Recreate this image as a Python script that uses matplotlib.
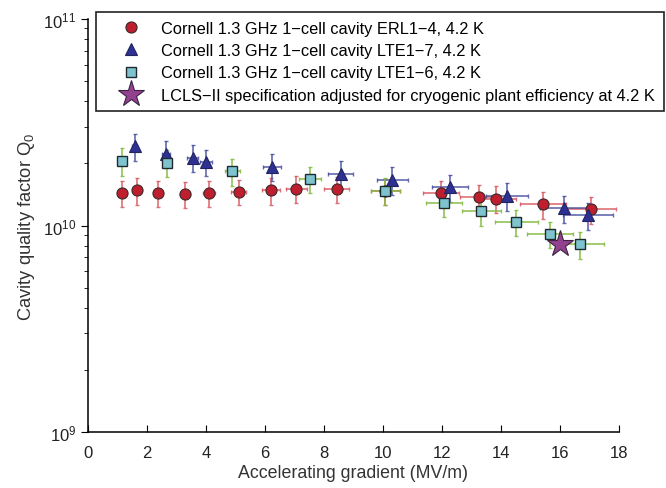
import numpy as np
import matplotlib
matplotlib.use('Agg')
import matplotlib.pyplot as plt
from matplotlib.ticker import LogLocator, NullFormatter, MultipleLocator

plt.rcParams['font.family'] = ['Liberation Sans', 'DejaVu Sans']
plt.rcParams['mathtext.fontset'] = 'custom'
plt.rcParams['mathtext.rm'] = 'Liberation Sans'
plt.rcParams['mathtext.it'] = 'Liberation Sans'

# ERL1-4 (red circles)
erl_x = [1.15, 1.68, 2.38, 3.30, 4.11, 5.11, 6.21, 7.07, 8.44, 10.09, 11.97, 13.27, 13.83, 15.43, 17.06]
erl_q = [1.44e10, 1.48e10, 1.44e10, 1.42e10, 1.44e10, 1.46e10, 1.48e10, 1.51e10, 1.50e10,
         1.47e10, 1.44e10, 1.37e10, 1.35e10, 1.27e10, 1.20e10]
erl_xerr = [0.06, 0.08, 0.12, 0.17, 0.21, 0.26, 0.31, 0.35, 0.42, 0.50, 0.60, 0.66, 0.69, 0.77, 0.85]
erl_qerr = [0.21e10, 0.22e10, 0.21e10, 0.21e10, 0.21e10, 0.21e10, 0.22e10, 0.22e10, 0.22e10,
            0.21e10, 0.21e10, 0.20e10, 0.20e10, 0.19e10, 0.18e10]

# LTE1-7 (blue triangles)
lte7_x = [1.59, 2.64, 3.55, 4.00, 6.25, 8.57, 10.32, 12.27, 14.20, 16.14, 16.97]
lte7_q = [2.42e10, 2.23e10, 2.13e10, 2.03e10, 1.93e10, 1.78e10, 1.66e10, 1.53e10, 1.39e10, 1.21e10, 1.12e10]
lte7_xerr = [0.08, 0.13, 0.18, 0.20, 0.31, 0.43, 0.52, 0.61, 0.71, 0.81, 0.85]
lte7_qerr = [0.36e10, 0.33e10, 0.32e10, 0.30e10, 0.29e10, 0.27e10, 0.25e10, 0.23e10, 0.21e10, 0.18e10, 0.17e10]

# LTE1-6 (cyan squares)
lte6_x = [1.17, 2.67, 4.90, 7.53, 10.09, 12.07, 13.34, 14.53, 15.66, 16.68]
lte6_q = [2.05e10, 2.01e10, 1.83e10, 1.68e10, 1.47e10, 1.29e10, 1.17e10, 1.04e10, 0.905e10, 0.81e10]
lte6_xerr = [0.06, 0.13, 0.25, 0.38, 0.50, 0.60, 0.67, 0.73, 0.78, 0.83]
lte6_qerr = [0.31e10, 0.30e10, 0.27e10, 0.25e10, 0.22e10, 0.19e10, 0.17e10, 0.15e10, 0.13e10, 0.12e10]

# LCLS-II spec
spec_x = [16.0]
spec_q = [8.15e9]

labels = ['Cornell 1.3 GHz 1\u2212cell cavity ERL1\u22124, 4.2 K',
          'Cornell 1.3 GHz 1\u2212cell cavity LTE1\u22127, 4.2 K',
          'Cornell 1.3 GHz 1\u2212cell cavity LTE1\u22126, 4.2 K',
          'LCLS\u2212II specification adjusted for cryogenic plant efficiency at 4.2 K']

fig = plt.figure(figsize=(6.66, 4.89), dpi=100)
ax = fig.add_axes([0.132, 0.1145, 0.797, 0.8446])

ax.errorbar(erl_x, erl_q, xerr=erl_xerr, yerr=erl_qerr, fmt='none', ecolor='#d9575f',
            elinewidth=1.2, capsize=1.5, alpha=0.85, zorder=2)
ax.errorbar(lte7_x, lte7_q, xerr=lte7_xerr, yerr=lte7_qerr, fmt='none', ecolor='#4a4f9e',
            elinewidth=1.2, capsize=1.5, alpha=0.85, zorder=2)
ax.errorbar(lte6_x, lte6_q, xerr=lte6_xerr, yerr=lte6_qerr, fmt='none', ecolor='#86bc45',
            elinewidth=1.2, capsize=1.5, alpha=0.9, zorder=2)

ax.plot(erl_x, erl_q, 'o', ms=8, mfc='#be1e2d', mec='#3a2a2a', mew=0.8, ls='none', zorder=3, label=labels[0])
ax.plot(lte7_x, lte7_q, '^', ms=9, mfc='#2e3192', mec='#22245e', mew=0.8, ls='none', zorder=4, label=labels[1])
ax.plot(lte6_x, lte6_q, 's', ms=6.5, mfc='#7fc3cf', mec='#1e2a30', mew=1.0, ls='none', zorder=5, label=labels[2])
ax.plot(spec_x, spec_q, '*', ms=20, mfc='#93408f', mec='#3a2540', mew=0.8, ls='none', zorder=6, label=labels[3])

ax.set_yscale('log')
ax.set_xlim(0, 18)
ax.set_ylim(1e9, 1e11)
ax.xaxis.set_major_locator(MultipleLocator(2))
ax.yaxis.set_major_locator(LogLocator(base=10, numticks=5))
ax.yaxis.set_minor_locator(LogLocator(base=10, subs=np.arange(2, 10), numticks=20))
ax.yaxis.set_minor_formatter(NullFormatter())

for s in ['left', 'bottom']:
    ax.spines[s].set_linewidth(1.1)
ax.spines['top'].set_visible(False)
ax.spines['right'].set_visible(False)
ax.tick_params(axis='x', direction='in', length=5, labelsize=12, pad=9, labelcolor='#222222')
ax.tick_params(axis='y', which='major', direction='out', length=5, labelsize=12, labelcolor='#222222')
ax.tick_params(axis='y', which='minor', direction='out', length=3)

ax.set_xlabel('Accelerating gradient (MV/m)', fontsize=12.8, color='#333333', labelpad=3)
ax.set_ylabel('Cavity quality factor Q$_0$', fontsize=13.2, color='#333333', labelpad=4)

leg = ax.legend(loc='upper left', bbox_to_anchor=(0.0145, 1.016), borderaxespad=0,
                fontsize=11.8, frameon=True, fancybox=False, edgecolor='#222222', framealpha=1,
                handlelength=3.27, handletextpad=0.25, borderpad=0.5, labelspacing=0.45)
leg.get_frame().set_linewidth(1.2)

fig.savefig('out.png', dpi=100)
